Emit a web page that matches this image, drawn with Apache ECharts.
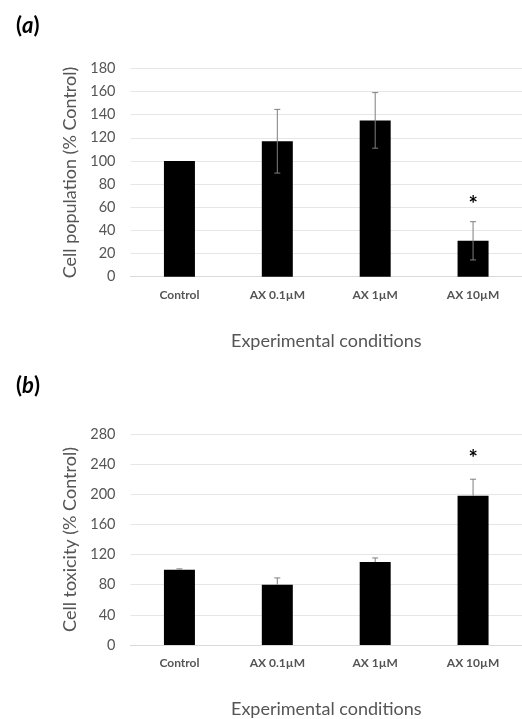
<!DOCTYPE html>
<html>
<head>
<meta charset="utf-8">
<script src="https://cdn.jsdelivr.net/npm/echarts@6/dist/echarts.min.js"></script>
<style>html,body{margin:0;padding:0;background:#fff}#c{width:522px;height:719px}</style>
</head>
<body>
<div id="c"></div>
<script>
var categories = ['Control', 'AX 0.1\u00b5M', 'AX 1\u00b5M', 'AX 10\u00b5M'];
var popValues = [100, 117, 135, 31];
var popErr = [0, 27.5, 24, 16.5];
var popSig = [false, false, false, true];
var toxValues = [100, 80, 110, 198];
var toxErr = [1, 9, 5.5, 22];
var toxSig = [false, false, false, true];
var popTicks = {min: 0, max: 180, interval: 20};
var toxTicks = {min: 0, max: 280, interval: 40};

var FONT = 'Lato, "Noto Sans", sans-serif';
var GREY = '#555555';

function errSeries(idx, values, errs, sig, both, starOffset) {
  return {
    type: 'custom',
    xAxisIndex: idx, yAxisIndex: idx,
    z: 5,
    data: values.map(function (v, i) { return [i, v, errs[i], sig[i] ? 1 : 0]; }),
    renderItem: function (params, api) {
      var i = api.value(0), v = api.value(1), e = api.value(2), s = api.value(3);
      var top = api.coord([i, v + e]);
      var bot = api.coord([i, both ? v - e : v]);
      var children = [];
      if (e > 0) {
        var st = {stroke: '#7f7f7f', lineWidth: 1};
        children.push({type: 'line', shape: {x1: top[0], y1: top[1], x2: bot[0], y2: bot[1]}, style: st});
        children.push({type: 'line', shape: {x1: top[0] - 3, y1: top[1], x2: top[0] + 3, y2: top[1]}, style: st});
        if (both) children.push({type: 'line', shape: {x1: bot[0] - 3, y1: bot[1], x2: bot[0] + 3, y2: bot[1]}, style: st});
      }
      if (s) {
        children.push({type: 'text', style: {text: '*', x: top[0], y: top[1] + starOffset, align: 'center', verticalAlign: 'middle',
          font: 'bold 22px ' + FONT, fill: '#000'}});
      }
      return {type: 'group', children: children};
    }
  };
}

function xAxis(idx) {
  return {
    type: 'category', gridIndex: idx, data: categories,
    axisLine: {show: true, lineStyle: {color: '#d9d9d9', width: 1}},
    axisTick: {show: false},
    axisLabel: {color: GREY, fontFamily: FONT, fontSize: 12, fontWeight: 'bold', margin: 12},
    name: 'Experimental conditions', nameLocation: 'middle', nameGap: 55,
    nameTextStyle: {color: GREY, fontFamily: FONT, fontSize: 18}
  };
}
function yAxis(idx, t, name) {
  return {
    type: 'value', gridIndex: idx, min: t.min, max: t.max, interval: t.interval,
    axisLine: {show: false}, axisTick: {show: false},
    splitLine: {lineStyle: {color: '#e6e6e6', width: 1}},
    axisLabel: {color: GREY, fontFamily: FONT, fontSize: 14.5, margin: 15},
    name: name, nameLocation: 'middle', nameGap: 48, nameRotate: 90,
    nameTextStyle: {color: GREY, fontFamily: FONT, fontSize: 18}
  };
}

var chart = echarts.init(document.getElementById('c'), null, {renderer: 'canvas'});
chart.setOption({
  backgroundColor: '#fff',
  animation: false,
  title: [
    {text: '{p|(}{i|a}{p|)}', left: 11, top: 10, textStyle: {rich: {
      p: {fontFamily: FONT, fontSize: 22, fontWeight: 'bold', color: '#000'},
      i: {fontFamily: FONT, fontSize: 22, fontWeight: 'bold', fontStyle: 'italic', color: '#000'}}}},
    {text: '{p|(}{i|b}{p|)}', left: 11, top: 370, textStyle: {rich: {
      p: {fontFamily: FONT, fontSize: 22, fontWeight: 'bold', color: '#000'},
      i: {fontFamily: FONT, fontSize: 22, fontWeight: 'bold', fontStyle: 'italic', color: '#000'}}}}
  ],
  grid: [
    {left: 130.5, top: 68.3, width: 400, height: 208.4},
    {left: 130.5, top: 434, width: 398, height: 211.7}
  ],
  xAxis: [xAxis(0), xAxis(1)],
  yAxis: [yAxis(0, popTicks, 'Cell population (% Control)'), yAxis(1, toxTicks, 'Cell toxicity (% Control)')],
  series: [
    {type: 'bar', xAxisIndex: 0, yAxisIndex: 0, data: popValues, barWidth: 31, itemStyle: {color: '#000'}},
    errSeries(0, popValues, popErr, popSig, true, -17),
    {type: 'bar', xAxisIndex: 1, yAxisIndex: 1, data: toxValues, barWidth: 31, itemStyle: {color: '#000'}},
    errSeries(1, toxValues, toxErr, toxSig, false, -20)
  ]
});
</script>
</body>
</html>
